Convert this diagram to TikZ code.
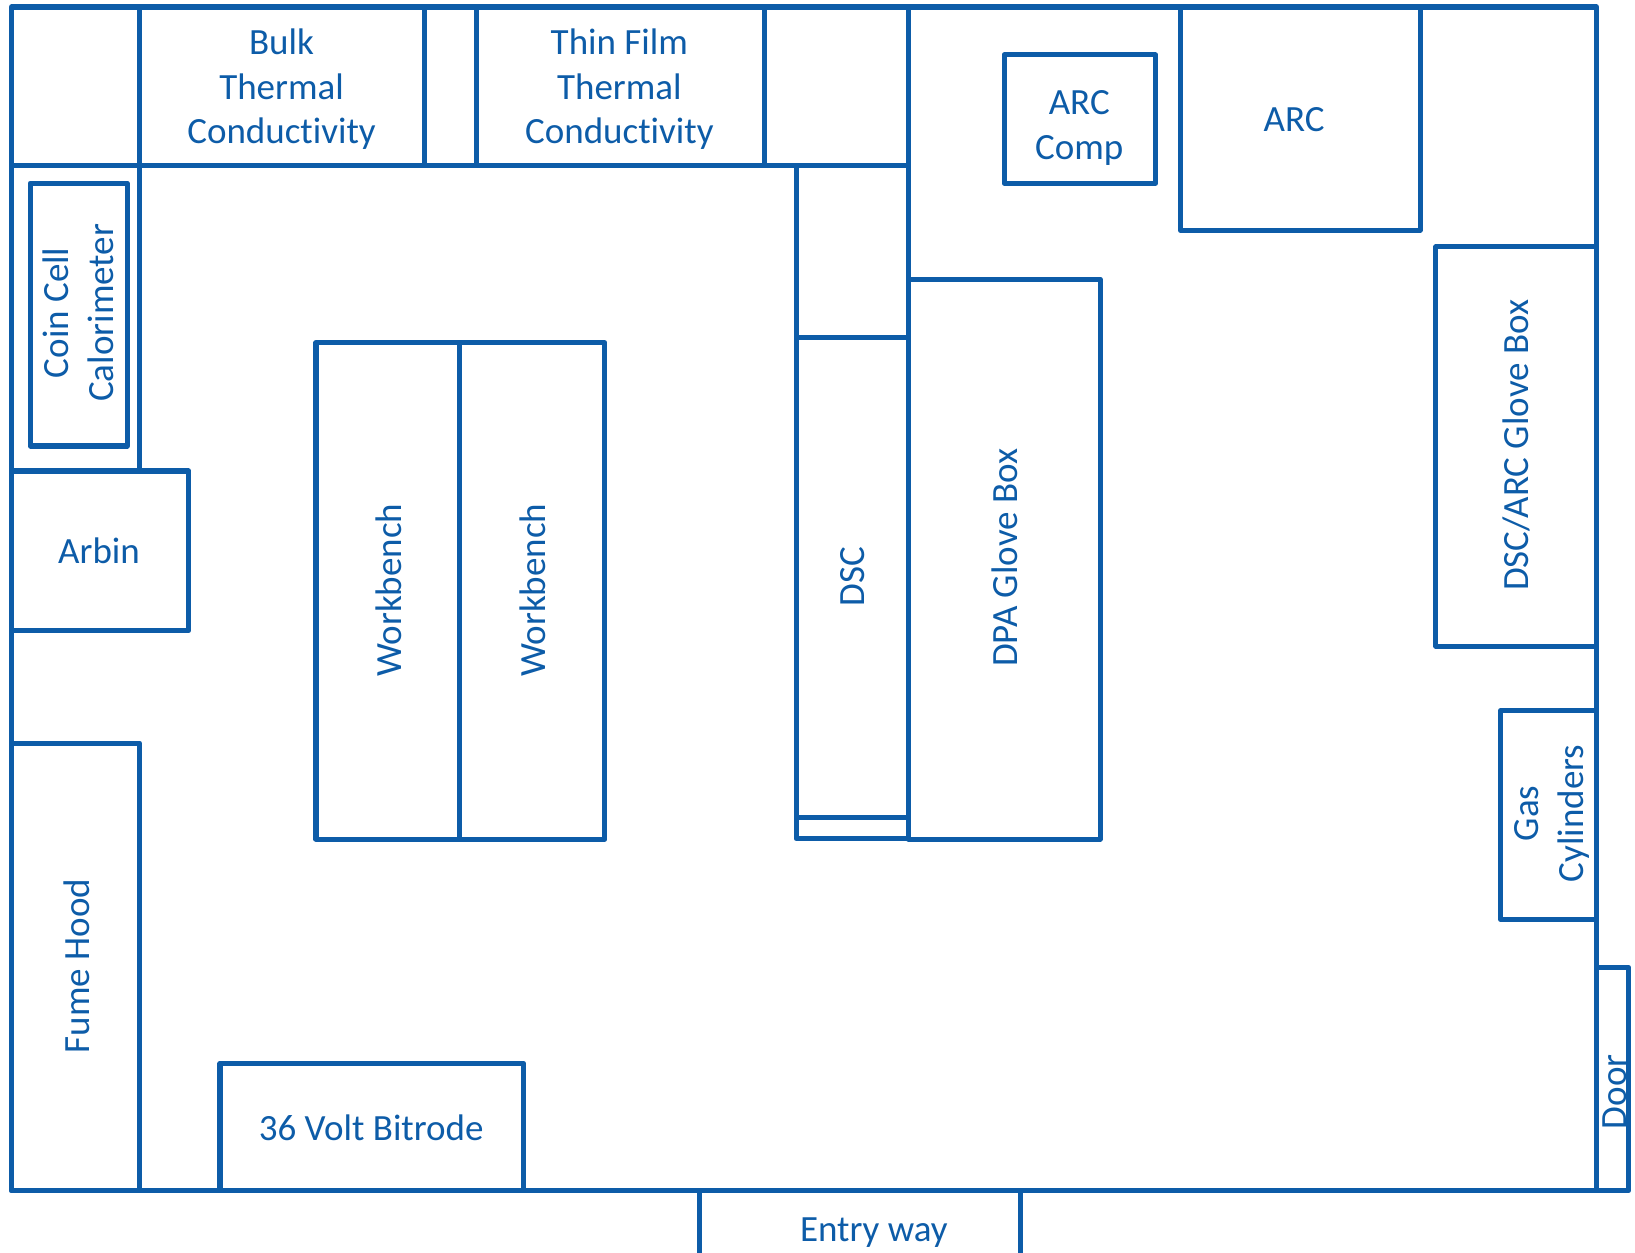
\documentclass[tikz,border=0pt]{standalone}
\usepackage{fontspec}
\setmainfont{Carlito}[Ligatures=CommonOff]
\definecolor{plan}{HTML}{0D5CA8}
\tikzset{
  x=0.52135pt,y=-0.52135pt,
  wall/.style={draw=plan,line width=2.55pt,line join=round,yshift=-0.35pt},
  lab/.style={text=plan,font=\fontsize{18.5}{22.4}\selectfont,align=center,inner sep=0pt},
  vlab/.style={lab,rotate=90}
}
\begin{document}
\begin{tikzpicture}
\useasboundingbox (0,0) rectangle (1568,1201);
% room and door / entry
\draw[wall] (11,6) rectangle (1531,1141);
\draw[wall] (671,1205) -- (671,1141) -- (979,1141) -- (979,1205);
\draw[wall] (1531,927) rectangle (1562,1141);
% top row
\draw[wall] (11,158) -- (871,158);
\draw[wall] (134,6) -- (134,450);
\draw[wall] (407,6) -- (407,158);
\draw[wall] (457,6) -- (457,158);
\draw[wall] (733,6) -- (733,158);
\draw[wall] (871,6) -- (871,804);
% DSC
\draw[wall] (763.5,158) -- (763.5,803.5) -- (871,803.5);
\draw[wall] (763.5,323) -- (871,323);
\draw[wall] (763.5,783.5) -- (871,783.5);
% others
\draw[wall] (29,175) rectangle (122,427);
\draw[wall] (11,451) rectangle (181,604);
\draw[wall] (11,712) rectangle (134,1141);
\draw[wall] (211,1019) rectangle (502,1141);
\draw[wall] (303,328) rectangle (441,804);
\draw[wall] (441,328) rectangle (580,804);
\draw[wall] (871,267) rectangle (1055,804);
\draw[wall] (963,52) rectangle (1108,175);
\draw[wall] (1132,6) rectangle (1362,220);
\draw[wall] (1377,236) rectangle (1531,619);
\draw[wall] (1439,681) rectangle (1531,881);
% labels
\node[lab] (bulk) at (270,85.5) {Bulk\\Thermal\\Conductivity};
\node[lab] (thin) at (594,85.5) {Thin Film\\Thermal\\Conductivity};
\node[lab] (arccomp) at (1035,123) {ARC\\Comp};
\node[lab] (arc) at (1241,115) {ARC};
\node[vlab] (coin) at (75,300) {Coin Cell\\Calorimeter};
\node[lab] (arbin) at (95,528.5) {Arbin};
\node[vlab] (fume) at (73.5,926.5) {Fume Hood};
\node[lab] (bitrode) at (356,1082) {36 Volt Bitrode};
\node[vlab] (wb1) at (372.5,566) {Workbench};
\node[vlab] (wb2) at (510.5,566) {Workbench};
\node[vlab] (dsc) at (818,553) {DSC};
\node[vlab] (dpa) at (963.5,535) {DPA Glove Box};
\node[vlab] (dscarc) at (1454.5,427) {DSC/ARC Glove Box};
\node[vlab] (gas) at (1488,780) {Gas\\Cylinders};
\node[vlab] (door) at (1549,1047) {Door};
\node[lab] (entry) at (838,1182) {Entry way};
\end{tikzpicture}
\end{document}
